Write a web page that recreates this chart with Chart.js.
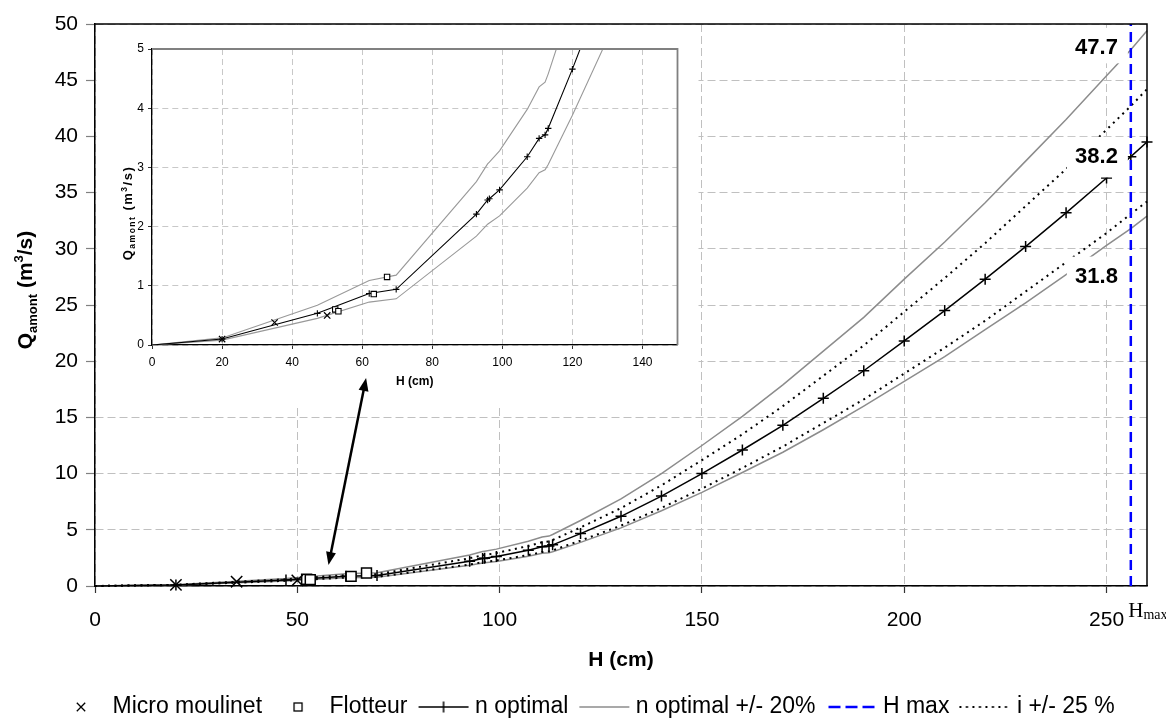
<!DOCTYPE html>
<html><head><meta charset="utf-8"><title>Q amont</title>
<script src="https://cdn.jsdelivr.net/npm/chart.js@4.4.1/dist/chart.umd.min.js"></script>
<style>
html,body{margin:0;padding:0;background:#fff;overflow:hidden}
#wrap{position:relative;width:1166px;height:722px;background:#fff}
canvas{position:absolute;display:block}
#main{left:0;top:0;width:1166px;height:722px}
#inset{left:97px;top:25px;width:601px;height:380px}
</style></head>
<body><div id="wrap"><canvas id="main" width="1166" height="722"></canvas><canvas id="inset" width="601" height="380"></canvas></div>
<script>
// ---------------- data ----------------
const H_cm = [0,20,47.2,62,69.7,92.6,95.8,96.3,99.2,107.1,110.5,112.2,113.1,120,130,140,150,160,170,180,190,200,210,220,230,240,250,256,260];
const Q_nOptimal = [0,0.10,0.535,0.87,0.94,2.21,2.45,2.47,2.62,3.18,3.49,3.55,3.66,4.66,6.2,8.0,10.0,12.1,14.3,16.7,19.15,21.8,24.5,27.3,30.2,33.2,36.3,38.2,39.5];
const Q_nPlus20 = [0,0.12,0.67,1.09,1.18,2.76,3.06,3.09,3.28,3.98,4.36,4.44,4.58,5.83,7.75,10.0,12.5,15.1,17.9,20.9,23.9,27.3,30.6,34.1,37.8,41.5,45.4,47.7,49.4];
const Q_nMinus20 = [0,0.083,0.45,0.725,0.78,1.84,2.04,2.06,2.18,2.65,2.91,2.96,3.05,3.88,5.17,6.69,8.33,10.1,11.9,13.9,16.0,18.2,20.4,22.8,25.2,27.7,30.3,31.8,32.9];
const Q_iPlus25 = [0,0.11,0.60,0.97,1.05,2.47,2.74,2.76,2.93,3.56,3.90,3.97,4.09,5.21,6.93,8.95,11.2,13.5,16.0,18.7,21.4,24.4,27.4,30.5,33.8,37.1,40.6,42.7,44.2];
const Q_iMinus25 = [0,0.087,0.46,0.75,0.81,1.91,2.12,2.14,2.27,2.75,3.02,3.07,3.17,4.04,5.37,6.95,8.66,10.5,12.4,14.5,16.6,18.9,21.2,23.6,26.2,28.8,31.4,33.1,34.2];
const H_micro = [20,35,50];
const Q_micro = [0.10,0.38,0.50];
const H_flotteur = [52.3,53.2,63.3,67.1];
const Q_flotteur = [0.60,0.57,0.86,1.15];
const H_hmax = [256,256];
const Q_hmax = [0,50];
const hmaxValueLabels = ['47.7','38.2','31.8'];
const xTicksMain = [0,50,100,150,200,250];
const yTicksMain = [0,5,10,15,20,25,30,35,40,45,50];
const xTicksInset = [0,20,40,60,80,100,120,140];
const yTicksInset = [0,1,2,3,4,5];
const legendNames = ['Micro moulinet','Flotteur','n optimal','n optimal +/- 20%','H max','i +/- 25 %'];

// ---------------- layout / style ----------------
const FONT = "'Liberation Sans', Arial, Helvetica, sans-serif";
const SERIF = "'Liberation Serif', 'Times New Roman', serif";
Chart.defaults.font.family = FONT;
Chart.defaults.color = '#000';
const GRID = '#c0c0c0';
const GRAY = '#8c8c8c';
const insetBox = {x: 96.5, y: 25, w: 602, h: 380};
// annotation anchors in data units (h, q) : right edge / baseline ; white box extents in px
const valueLabelPos = [{h: 252.8, q: 47.3, up: 26.5, down: 9}, {h: 252.8, q: 37.6, up: 26.5, down: 14}, {h: 252.8, q: 26.95, up: 26.5, down: 14}];
const arrowFrom = {h: 67.0, q: 18.5};
const arrowTo = {h: 57.7, q: 1.87};

const pts = (xs, ys) => xs.map((x, i) => ({x: x, y: ys[i]}));
const fixTicks = arr => scale => { scale.ticks = arr.map(v => ({value: v})); };

function richWidth(g, parts) { let w = 0; for (const p of parts) { g.font = p.font; w += g.measureText(p.t).width; } return w; }
function richDraw(g, parts, x, y) { let cx = x; for (const p of parts) { g.font = p.font; g.fillText(p.t, cx, y + (p.dy || 0)); cx += g.measureText(p.t).width; } }
function drawVerticalTitle(g, parts, x, yc, spacing) {
  g.save(); g.translate(x, yc); g.rotate(-Math.PI / 2);
  if (spacing) g.letterSpacing = spacing;
  g.fillStyle = '#000'; g.textAlign = 'left'; g.textBaseline = 'alphabetic';
  const w = richWidth(g, parts); richDraw(g, parts, -w / 2, 0); g.restore();
}
function arrowHead(g, x1, y1, x2, y2, len, half) {
  const a = Math.atan2(y2 - y1, x2 - x1), c = Math.cos(a), s = Math.sin(a);
  g.beginPath(); g.moveTo(x2, y2);
  g.lineTo(x2 - len * c + half * s, y2 - len * s - half * c);
  g.lineTo(x2 - len * c - half * s, y2 - len * s + half * c);
  g.closePath(); g.fill();
}

// legend symbols (Excel style)
function legendImg(kind) {
  const c = document.createElement('canvas'); c.width = 64; c.height = 24;
  const g = c.getContext('2d'); const cx = 38, cy = 12;
  g.strokeStyle = '#000'; g.lineWidth = 1.3;
  if (kind === 'x') {
    const s = 4.2; g.beginPath(); g.moveTo(cx - s, cy - s); g.lineTo(cx + s, cy + s); g.moveTo(cx + s, cy - s); g.lineTo(cx - s, cy + s); g.stroke();
  } else if (kind === 'sq') {
    g.fillStyle = '#fff'; g.fillRect(cx - 4, cy - 4, 8, 8); g.strokeRect(cx - 4, cy - 4, 8, 8);
  } else if (kind === 'nopt') {
    g.lineWidth = 1.5; g.beginPath(); g.moveTo(cx - 25, cy); g.lineTo(cx + 25, cy); g.moveTo(cx, cy - 5.5); g.lineTo(cx, cy + 5.5); g.stroke();
  } else if (kind === 'gray') {
    g.strokeStyle = GRAY; g.lineWidth = 1.5; g.beginPath(); g.moveTo(cx - 25, cy); g.lineTo(cx + 25, cy); g.stroke();
  } else if (kind === 'blue') {
    g.strokeStyle = '#0000ff'; g.lineWidth = 2.5; g.setLineDash([12, 5]); g.beginPath(); g.moveTo(cx - 23, cy); g.lineTo(cx + 23, cy); g.stroke();
  } else if (kind === 'dot') {
    g.lineWidth = 2; g.setLineDash([2, 4.5]); g.beginPath(); g.moveTo(cx - 26, cy); g.lineTo(cx + 27, cy); g.stroke();
  }
  return c;
}
const legendKinds = ['x', 'sq', 'nopt', 'gray', 'blue', 'dot'];

// ---------------- main chart ----------------
const mainDecor = {
  id: 'mainDecor',
  beforeDatasetsDraw(chart) {
    const g = chart.ctx; g.save(); g.fillStyle = '#fff';
    g.fillRect(insetBox.x, insetBox.y, insetBox.w, insetBox.h); g.restore();
  },
  afterDatasetsDraw(chart) {
    const g = chart.ctx, xs = chart.scales.x, ys = chart.scales.y;
    g.save(); g.font = 'bold 22px ' + FONT; g.textAlign = 'right'; g.textBaseline = 'alphabetic';
    hmaxValueLabels.forEach((t, i) => {
      const p = valueLabelPos[i];
      const px = xs.getPixelForValue(p.h), py = ys.getPixelForValue(p.q);
      g.fillStyle = '#fff'; g.fillRect(px - 51, py - p.up, 61, p.up + p.down);
      g.fillStyle = '#000'; g.fillText(t, px, py);
    });
    g.restore();
  },
  afterDraw(chart) {
    const g = chart.ctx, a = chart.chartArea, xs = chart.scales.x, ys = chart.scales.y;
    g.save();
    // frame top/right
    g.strokeStyle = '#000'; g.lineWidth = 1.5; g.beginPath();
    g.moveTo(a.left, a.top); g.lineTo(a.right, a.top); g.lineTo(a.right, a.bottom); g.stroke();
    // y title
    drawVerticalTitle(g, [
      {t: 'Q', font: 'bold 21px ' + FONT},
      {t: 'amont', font: 'bold 13px ' + FONT, dy: 5},
      {t: ' (m', font: 'bold 21px ' + FONT},
      {t: '3', font: 'bold 13px ' + FONT, dy: -9},
      {t: '/s)', font: 'bold 21px ' + FONT}
    ], 32, 290);
    // Hmax label below axis
    const hx = xs.getPixelForValue(H_hmax[0]) - 2.5, hy = a.bottom + 31;
    g.fillStyle = '#000'; g.textAlign = 'left'; g.textBaseline = 'alphabetic';
    g.font = '21px ' + SERIF; g.fillText('H', hx, hy);
    const hw = g.measureText('H').width;
    g.font = '14px ' + SERIF; g.fillText('max', hx + hw, hy + 2);
    // double arrow
    const x1 = xs.getPixelForValue(arrowFrom.h), y1 = ys.getPixelForValue(arrowFrom.q);
    const x2 = xs.getPixelForValue(arrowTo.h), y2 = ys.getPixelForValue(arrowTo.q);
    const L = Math.hypot(x2 - x1, y2 - y1), ux = (x2 - x1) / L, uy = (y2 - y1) / L;
    g.strokeStyle = '#000'; g.fillStyle = '#000'; g.lineWidth = 2.5;
    g.beginPath(); g.moveTo(x1 + ux * 10, y1 + uy * 10); g.lineTo(x2 - ux * 10, y2 - uy * 10); g.stroke();
    arrowHead(g, x1, y1, x2, y2, 13, 5);
    arrowHead(g, x2, y2, x1, y1, 13, 5);
    g.restore();
  }
};

const mainChart = new Chart(document.getElementById('main'), {
  type: 'line',
  data: {
    datasets: [
      {label: 'H max', data: pts(H_hmax, Q_hmax), borderColor: '#0000ff', borderWidth: 2.5, borderDash: [10, 6], pointRadius: 0, clip: false},
      {label: 'Micro moulinet', data: pts(H_micro, Q_micro), showLine: false, pointStyle: 'crossRot', pointRadius: 8, pointBorderWidth: 1.5, pointBorderColor: '#000', borderColor: '#000', clip: false},
      {label: 'Flotteur', data: pts(H_flotteur, Q_flotteur), showLine: false, pointStyle: 'rect', pointRadius: 7, pointBorderWidth: 1.5, pointBorderColor: '#000', pointBackgroundColor: '#fff', borderColor: '#000', clip: false},
      {label: 'n optimal', data: pts(H_cm, Q_nOptimal), borderColor: '#000', borderWidth: 1.5, pointStyle: 'cross', pointRadius: c => c.dataIndex === 0 ? 0 : 5.5, pointBorderWidth: 1.5, pointBorderColor: '#000', clip: false},
      {label: 'i +25 %', data: pts(H_cm, Q_iPlus25), borderColor: '#000', borderWidth: 2, borderDash: [2, 4.5], pointRadius: 0, clip: false},
      {label: 'i -25 %', data: pts(H_cm, Q_iMinus25), borderColor: '#000', borderWidth: 2, borderDash: [2, 4.5], pointRadius: 0, clip: false},
      {label: 'n optimal +20%', data: pts(H_cm, Q_nPlus20), borderColor: GRAY, borderWidth: 1.5, pointRadius: 0, clip: false},
      {label: 'n optimal -20%', data: pts(H_cm, Q_nMinus20), borderColor: GRAY, borderWidth: 1.5, pointRadius: 0, clip: false}
    ]
  },
  options: {
    responsive: false, animation: false, events: [], devicePixelRatio: 1,
    layout: {autoPadding: false, padding: {left: 45, top: 24, right: 19, bottom: -6.5}},
    plugins: {
      tooltip: {enabled: false},
      legend: {
        display: true, position: 'bottom', align: 'start',
        labels: {
          usePointStyle: true, pointStyleWidth: 52, padding: 4, color: '#000',
          font: {size: 23, family: FONT},
          generateLabels: () => legendNames.map((n, i) => ({
            text: n, pointStyle: legendImg(legendKinds[i]), fillStyle: '#000', strokeStyle: '#000',
            lineWidth: 0, hidden: false, fontColor: '#000', datasetIndex: i
          }))
        }
      }
    },
    scales: {
      x: {
        type: 'linear', min: 0, max: 260,
        afterBuildTicks: fixTicks(xTicksMain), afterFit: s => { s.height = 105.5; },
        grid: {color: GRID, lineWidth: 1, drawTicks: true, tickLength: 7, tickColor: '#333', tickWidth: 1.2},
        border: {display: true, color: '#000', width: 1.5, dash: [8, 4]},
        ticks: {font: {size: 21}, padding: 15, maxRotation: 0, autoSkip: false, color: '#000'},
        title: {display: true, text: 'H (cm)', font: {size: 21, weight: 'bold'}, color: '#000', padding: {top: 0, bottom: 18.4}}
      },
      y: {
        type: 'linear', min: 0, max: 50,
        afterBuildTicks: fixTicks(yTicksMain), afterFit: s => { s.width = 50; },
        grid: {color: GRID, lineWidth: 1, drawTicks: true, tickLength: 9, tickColor: '#808080', tickWidth: 1.2},
        border: {display: true, color: '#000', width: 1.5, dash: [8, 4]},
        ticks: {font: {size: 21}, padding: 8, autoSkip: false, color: '#000'}
      }
    }
  },
  plugins: [mainDecor]
});

// ---------------- inset chart ----------------
const insetDecor = {
  id: 'insetDecor',
  afterDraw(chart) {
    const g = chart.ctx, a = chart.chartArea;
    g.save();
    g.strokeStyle = '#808080'; g.lineWidth = 1.8; g.beginPath();
    g.moveTo(a.left, a.top); g.lineTo(a.right, a.top); g.lineTo(a.right, a.bottom); g.stroke();
    drawVerticalTitle(g, [
      {t: 'Q', font: 'bold 13px ' + FONT},
      {t: 'amont', font: 'bold 8.5px ' + FONT, dy: 3},
      {t: ' (m', font: 'bold 13px ' + FONT},
      {t: '3', font: 'bold 8.5px ' + FONT, dy: -5.5},
      {t: '/s)', font: 'bold 13px ' + FONT}
    ], 35, 188, '1.5px');
    g.restore();
  }
};

const insetChart = new Chart(document.getElementById('inset'), {
  type: 'line',
  data: {
    datasets: [
      {label: 'Micro moulinet', data: pts(H_micro, Q_micro), showLine: false, pointStyle: 'crossRot', pointRadius: 4.5, pointBorderWidth: 1.2, pointBorderColor: '#000', borderColor: '#000'},
      {label: 'Flotteur', data: pts(H_flotteur, Q_flotteur), showLine: false, pointStyle: 'rect', pointRadius: 3.8, pointBorderWidth: 1.1, pointBorderColor: '#000', pointBackgroundColor: '#fff', borderColor: '#000'},
      {label: 'n optimal', data: pts(H_cm, Q_nOptimal), borderColor: '#000', borderWidth: 1.1, pointStyle: 'cross', pointRadius: c => c.dataIndex === 0 ? 0 : 3.2, pointBorderWidth: 1.1, pointBorderColor: '#000'},
      {label: 'n optimal +20%', data: pts(H_cm, Q_nPlus20), borderColor: '#999', borderWidth: 1.1, pointRadius: 0},
      {label: 'n optimal -20%', data: pts(H_cm, Q_nMinus20), borderColor: '#999', borderWidth: 1.1, pointRadius: 0}
    ]
  },
  options: {
    responsive: false, animation: false, events: [], devicePixelRatio: 1,
    layout: {autoPadding: false, padding: {left: 0, top: 24, right: 20.5, bottom: 0}},
    plugins: {tooltip: {enabled: false}, legend: {display: false}},
    scales: {
      x: {
        type: 'linear', min: 0, max: 150,
        afterBuildTicks: fixTicks(xTicksInset), afterFit: s => { s.height = 60; },
        grid: {color: '#c8c8c8', lineWidth: 1, drawTicks: true, tickLength: 4, tickColor: '#333'},
        border: {display: true, color: '#000', width: 1.3, dash: [6, 4]},
        ticks: {font: {size: 12}, padding: 6, maxRotation: 0, autoSkip: false, color: '#000'},
        title: {display: true, text: 'H (cm)', font: {size: 12, weight: 'bold'}, color: '#000', padding: {top: 0, bottom: 16}}
      },
      y: {
        type: 'linear', min: 0, max: 5,
        afterBuildTicks: fixTicks(yTicksInset), afterFit: s => { s.width = 55; },
        grid: {color: '#c8c8c8', lineWidth: 1, drawTicks: true, tickLength: 4, tickColor: '#333'},
        border: {display: true, color: '#000', width: 1.3, dash: [6, 4]},
        ticks: {font: {size: 12}, padding: 4, autoSkip: false, color: '#000'}
      }
    }
  },
  plugins: [insetDecor]
});
</script></body></html>
